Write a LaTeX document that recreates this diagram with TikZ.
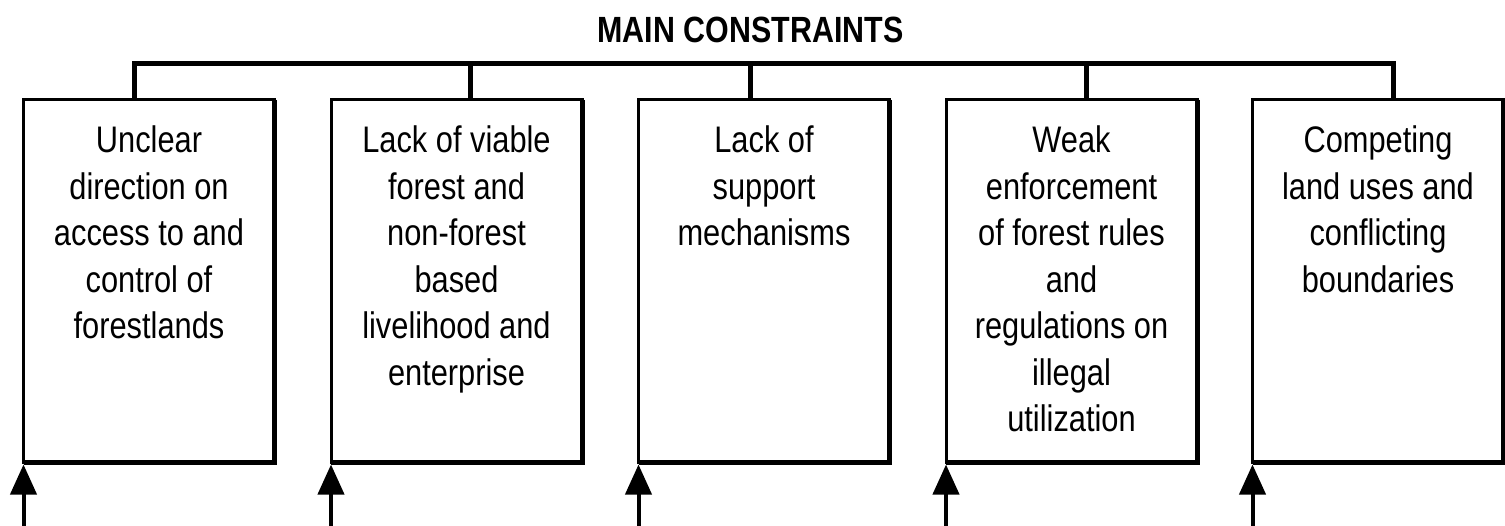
\documentclass[tikz,border=0pt]{standalone}
\usepackage{fontspec}
\usepackage{graphicx}
\setmainfont{Liberation Sans}
\usetikzlibrary{arrows.meta}
\newcommand{\boxtext}[1]{\scalebox{1}[1.2]{\parbox[t]{245pt}{\centering\fontsize{30.8}{38.7}\selectfont #1}}}
\newcommand{\titletext}[1]{\scalebox{1}[1.2]{\fontsize{30.4}{36}\selectfont\bfseries #1}}
\begin{document}
\begin{tikzpicture}[x=1pt,y=-1pt,
  cbox/.style={draw, line width=3pt, minimum width=251pt, minimum height=362pt,
    inner sep=0pt, outer sep=0pt, anchor=north west},
  thickedge/.style={line width=5pt, line join=miter},
  link/.style={line width=5pt, line join=miter},
  arr/.style={line width=4pt, -{Triangle[length=30pt,width=26pt]}, shorten >=2.5pt},
  txt/.style={anchor=base, inner sep=0pt}]
\useasboundingbox (0,0) rectangle (1505,526);
% title
\node[anchor=base, inner sep=0pt] (title) at (750.5,43) {\titletext{MAIN CONSTRAINTS}};
% boxes
\node[cbox] (b1) at (23.5,100) {};
\node[cbox] (b2) at (331,100) {};
\node[cbox] (b3) at (638.5,100) {};
\node[cbox] (b4) at (946,100) {};
\node[cbox] (b5) at (1252.5,100) {};
\foreach \b in {b1,b2,b3,b4,b5}{
  \draw[thickedge] (\b.north east) -- (\b.south east) -- (\b.south west);
}
% texts
\node[txt] (t1) at ([yshift=-53pt]b1.north) {\boxtext{Unclear\\direction on\\access to and\\control of\\forestlands}};
\node[txt] (t2) at ([yshift=-53pt]b2.north) {\boxtext{Lack of viable\\forest and\\non-forest\\based\\livelihood and\\enterprise}};
\node[txt] (t3) at ([yshift=-53pt]b3.north) {\boxtext{Lack of\\support\\mechanisms}};
\node[txt] (t4) at ([yshift=-53pt]b4.north) {\boxtext{Weak\\enforcement\\of forest rules\\and\\regulations on\\illegal\\utilization}};
\node[txt] (t5) at ([yshift=-53pt]b5.north) {\boxtext{Competing\\land uses and\\conflicting\\boundaries}};
% bus and connectors
\coordinate (j1) at (134.5,64);
\coordinate (j2) at (470.5,64);
\coordinate (j3) at (750,64);
\coordinate (j4) at (1086,64);
\coordinate (j5) at (1393.5,64);
\draw[link] (j1 |- b1.north) -- (j1) -- (j5) -- (j5 |- b5.north);
\draw[link] (j2) -- (j2 |- b2.north);
\draw[link] (j3) -- (j3 |- b3.north);
\draw[link] (j4) -- (j4 |- b4.north);
% arrows from below
\coordinate (a1) at (23.5,526);
\coordinate (a2) at (331,526);
\coordinate (a3) at (638.5,526);
\coordinate (a4) at (946,526);
\coordinate (a5) at (1252.5,526);
\draw[arr] (a1) -- (b1.south west);
\draw[arr] (a2) -- (b2.south west);
\draw[arr] (a3) -- (b3.south west);
\draw[arr] (a4) -- (b4.south west);
\draw[arr] (a5) -- (b5.south west);
\end{tikzpicture}
\end{document}
